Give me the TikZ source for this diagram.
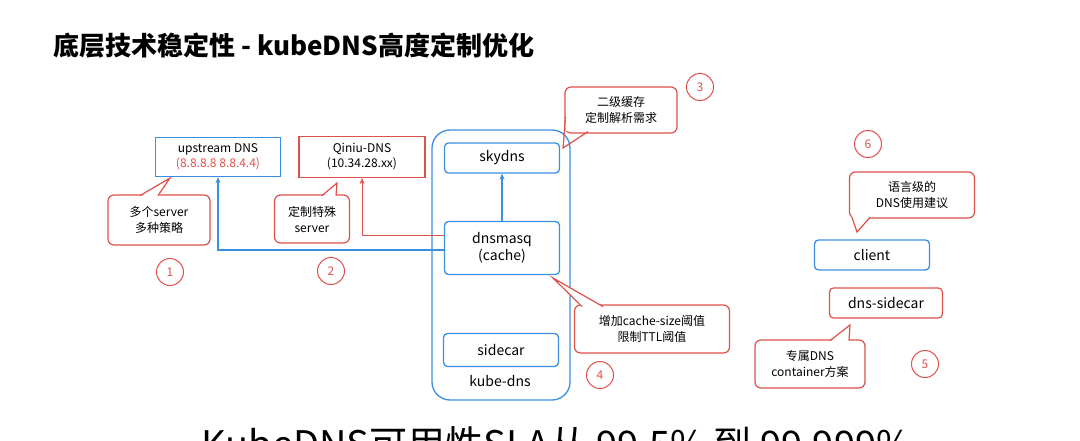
\documentclass[tikz,border=0pt]{standalone}
\usepackage{fontspec}
\setmainfont{Noto Sans CJK SC}
\definecolor{bl}{HTML}{3A8FE0}
\definecolor{rd}{HTML}{E0504A}
\tikzset{x=1pt,y=-1pt,
 bbox/.style={draw=bl,line width=1.3pt,rounded corners=4pt,align=center,font=\fontsize{14}{17}\selectfont,inner sep=0},
 rbox/.style={draw=rd,line width=1.3pt,align=center,font=\fontsize{12}{15}\selectfont,inner sep=0},
 call/.style={draw=rd,line width=1.2pt,rounded corners=6pt,align=center,font=\fontsize{12}{16}\selectfont,inner sep=0,fill=white},
 num/.style={draw=rd,circle,line width=1pt,minimum size=27pt,inner sep=0,text=rd,font=\fontsize{12}{14}\selectfont},
 arr/.style={-{Stealth[length=6pt,width=5pt]}}}
\usetikzlibrary{arrows.meta}
\begin{document}
\begin{tikzpicture}
\useasboundingbox (0,0) rectangle (1080,440);
\clip (0,0) rectangle (1080,440);
\node[anchor=west,font=\fontsize{26}{30}\selectfont\bfseries] (title) at (50,46) {底层技术稳定性 - kubeDNS高度定制优化};
% kube-dns container
\node[draw=bl,line width=1.3pt,rounded corners=18pt,minimum width=138pt,minimum height=270pt] (kd) at (501,265) {};
\node[font=\fontsize{14}{17}\selectfont] (kdl) at (500,381) {kube-dns};
\node[bbox,minimum width=115pt,minimum height=30pt] (sky) at (502,158) {skydns};
\node[bbox,minimum width=115pt,minimum height=53pt] (dm) at (502,248) {dnsmasq\\(cache)};
\node[bbox,minimum width=115pt,minimum height=33pt] (sc) at (501,350) {sidecar};
\node[draw=bl,line width=1.3pt,minimum width=125pt,minimum height=39pt,align=center,font=\fontsize{12}{15}\selectfont,inner sep=0] (up) at (218,157) {upstream DNS\\\textcolor{rd}{(8.8.8.8 8.8.4.4)}};
\node[rbox,minimum width=126pt,minimum height=41pt] (qn) at (362,157) {Qiniu-DNS\\(10.34.28.xx)};
\draw[bl,line width=1.3pt,arr] (dm) -- (sky);
\draw[bl,line width=1.2pt,arr] (dm.west|-0,250) -| (up.south);
\draw[rd,line width=0.6pt,arr] (dm.west|-0,235) -| (qn.south);
% callouts
\node[call,minimum width=102pt,minimum height=50pt] (c1) at (159,220) {多个server\\多种策略};
\fill[white] (140,197) -- (170,178) -- (158,197) -- cycle;
\draw[rd,line width=1.2pt] (140,195.6) -- (170,178) -- (158,195.6);
\node[call,minimum width=75pt,minimum height=48pt] (c2) at (312,219) {定制特殊\\server};
\fill[white] (322,197) -- (337,183) -- (336,197) -- cycle;
\draw[rd,line width=1.2pt] (322,195.6) -- (337,183) -- (336,195.6);
\node[call,minimum width=112pt,minimum height=46pt] (c3) at (621,110) {二级缓存\\定制解析需求};
\draw[rd,line width=1.2pt] (565.6,117) -- (563,148) -- (588,131.6);
\fill[white] (566,118) -- (565.5,131) -- (588,131) -- (588,128) -- cycle;
\node[call,minimum width=155pt,minimum height=48pt] (c4) at (652,329) {增加cache-size阈值\\限制TTL阈值};
\fill[white] (582,307) -- (553,278) -- (603,307) -- cycle;
\draw[rd,line width=1.2pt] (582,306.6) -- (553,278) -- (603,306.6);
\node[call,minimum width=125pt,minimum height=46pt] (c6) at (912,195) {语言级的\\DNS使用建议};
\fill[white] (852,216) -- (857,232) -- (870,216) -- cycle;
\draw[rd,line width=1.2pt] (852,217.4) -- (857,232) -- (870,217.4);
\node[bbox,minimum width=115pt,minimum height=30pt] (cl) at (872,255) {client};
\node[call,rounded corners=4pt,font=\fontsize{14}{17}\selectfont,minimum width=113pt,minimum height=30pt] (ds) at (886,303) {dns-sidecar};
\node[call,minimum width=110pt,minimum height=48pt] (c5) at (810,364) {专属DNS\\container方案};
\fill[white] (830,342) -- (850,325) -- (849,342) -- cycle;
\draw[rd,line width=1.2pt] (830,340.6) -- (850,325) -- (849,340.6);
% numbers
\node[num] (n1) at (170,272) {1};
\node[num] (n2) at (331,271) {2};
\node[num] (n3) at (700,87) {3};
\node[num] (n4) at (600,375) {4};
\node[num] (n5) at (925,364) {5};
\node[num] (n6) at (868,144) {6};
\node[anchor=base west,font=\fontsize{38}{44}\selectfont] (sla) at (198,458) {KubeDNS可用性SLA从 99.5\% 到 99.999\%};
\end{tikzpicture}
\end{document}
